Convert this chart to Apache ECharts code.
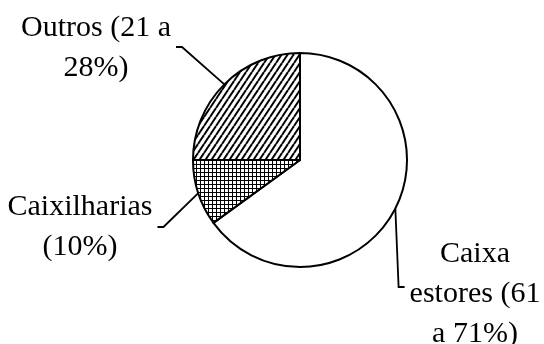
<!DOCTYPE html>
<html><head><meta charset="utf-8">
<script src="https://cdn.jsdelivr.net/npm/echarts@6/dist/echarts.min.js"></script>
<style>html,body{margin:0;padding:0;background:#fff}#c{width:544px;height:344px}</style>
</head><body><div id="c"></div>
<script>
// Data
const categories = ['Caixa estores', 'Caixilharias', 'Outros'];
const values = [65, 10, 25];
const labelTexts = ['Caixa\nestores (61\na 71%)', 'Caixilharias\n(10%)', 'Outros (21 a\n28%)'];

// Fill patterns
function hatchDiag() {
  const w = 6, h = 9;
  const c = document.createElement('canvas'); c.width = w; c.height = h;
  const g = c.getContext('2d');
  g.fillStyle = '#fff'; g.fillRect(0, 0, w, h);
  g.strokeStyle = '#000'; g.lineWidth = 2;
  for (let k = -1; k <= 1; k++) { g.beginPath(); g.moveTo(k * w, h); g.lineTo(k * w + w, 0); g.stroke(); }
  return c;
}
function hatchGrid() {
  const s = 4;
  const c = document.createElement('canvas'); c.width = s; c.height = s;
  const g = c.getContext('2d');
  g.fillStyle = '#fff'; g.fillRect(0, 0, s, s);
  g.fillStyle = '#000'; g.fillRect(0, 0, s, 1); g.fillRect(0, 0, 1, s);
  return c;
}
const fills = ['#ffffff', { image: hatchGrid(), repeat: 'repeat' }, { image: hatchDiag(), repeat: 'repeat' }];

const labelPos = [
  { x: 475, y: 294, side: -1, ly: 287 },
  { x: 80, y: 227, side: 1, ly: 227 },
  { x: 96, y: 48, side: 1, ly: 47 }
];

const chart = echarts.init(document.getElementById('c'), null, { renderer: 'canvas' });
chart.setOption({
  animation: false,
  backgroundColor: '#fff',
  series: [{
    type: 'pie',
    center: [300, 160],
    radius: 107,
    startAngle: 90,
    clockwise: true,
    avoidLabelOverlap: false,
    data: categories.map((n, i) => ({ name: n, value: values[i], itemStyle: { color: fills[i] } })),
    itemStyle: { borderColor: '#000', borderWidth: 2 },
    label: {
      show: true, position: 'outside',
      formatter: p => labelTexts[p.dataIndex],
      color: '#000', fontFamily: 'Liberation Serif', fontSize: 30, lineHeight: 40, align: 'center'
    },
    labelLine: { show: true, length: 10, length2: 5, smooth: false, lineStyle: { color: '#000', width: 1.8 } },
    labelLayout: function (p) {
      const L = labelPos[p.dataIndex];
      const w = p.labelRect.width;
      const edge = L.x + L.side * w / 2;
      const res = { x: L.x, y: L.y, align: 'center', verticalAlign: 'middle' };
      const a = p.labelLinePoints && p.labelLinePoints[0];
      if (a) res.labelLinePoints = [a, [edge + L.side * 11, L.ly], [edge + L.side * 5, L.ly]];
      return res;
    },
    emphasis: { disabled: true }
  }]
});
</script></body></html>
